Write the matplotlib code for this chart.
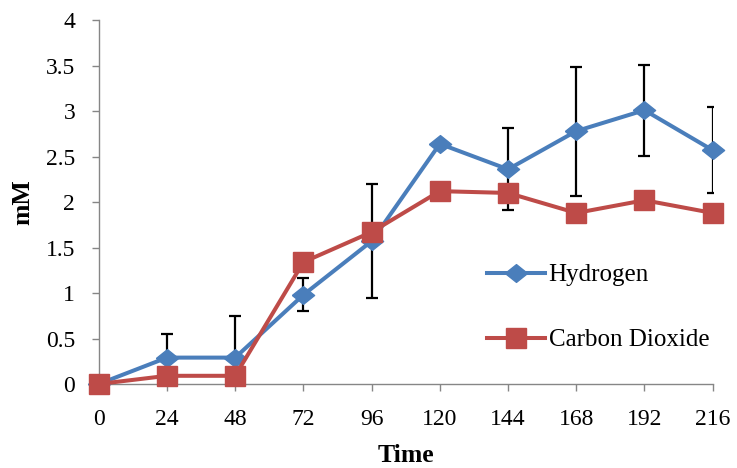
import numpy as np
import matplotlib
matplotlib.use('Agg')
import matplotlib.pyplot as plt

plt.rcParams['font.family'] = ['Liberation Serif', 'DejaVu Serif']

# data
time_h = [0, 24, 48, 72, 96, 120, 144, 168, 192, 216]
hydrogen = [0.0, 0.29, 0.29, 0.98, 1.57, 2.64, 2.36, 2.78, 3.01, 2.57]
hydrogen_err = [0.0, 0.26, 0.46, 0.18, 0.63, 0.0, 0.45, 0.71, 0.50, 0.47]
co2 = [0.0, 0.09, 0.09, 1.34, 1.67, 2.12, 2.10, 1.88, 2.02, 1.88]

blue = '#4A7EBB'
red = '#BE4B48'
grey = '#868686'

# slightly flattened diamond, like the Excel marker
diamond = [(-1, 0), (0, 0.8), (1, 0), (0, -0.8), (-1, 0)]

fig = plt.figure(figsize=(7.37, 4.68), dpi=100)
ax = fig.add_axes([0.134, 0.1795, 0.833, 0.7775])

ax.errorbar(time_h, hydrogen, yerr=hydrogen_err, fmt='none', ecolor='black',
            elinewidth=1.6, capsize=4.3, capthick=1.6, zorder=2)
l1, = ax.plot(time_h, hydrogen, color=blue, lw=2.9, marker=diamond, markersize=16,
              zorder=3, clip_on=False, label='Hydrogen')
l2, = ax.plot(time_h, co2, color=red, lw=2.9, marker='s', markersize=14.5,
              zorder=4, clip_on=False, label='Carbon Dioxide')

ax.set_xlim(0, 216)
ax.set_ylim(0, 4)
ax.set_xticks(time_h)
ax.set_yticks(np.arange(0, 4.01, 0.5))
ax.set_yticklabels(['0', '0.5', '1', '1.5', '2', '2.5', '3', '3.5', '4'])

for s in ['top', 'right']:
    ax.spines[s].set_visible(False)
for s in ['left', 'bottom']:
    ax.spines[s].set_color(grey)
    ax.spines[s].set_linewidth(1.0)
ax.tick_params(axis='both', colors=grey, labelcolor='black', labelsize=17,
               length=5, width=1.0, direction='out')
ax.tick_params(axis='x', pad=13)
ax.tick_params(axis='y', pad=12)

ax.set_xlabel('Time', fontsize=18.5, fontweight='bold', labelpad=10)
ax.set_ylabel('mM', fontsize=18.5, fontweight='bold', labelpad=8)

ax.legend(handles=[l1, l2], loc='center left', bbox_to_anchor=(0.633, 0.21),
          frameon=False, fontsize=18, handlelength=2.3, handletextpad=0.15,
          labelspacing=1.7, numpoints=1, borderpad=0, borderaxespad=0)

fig.savefig('out.png', dpi=100)
